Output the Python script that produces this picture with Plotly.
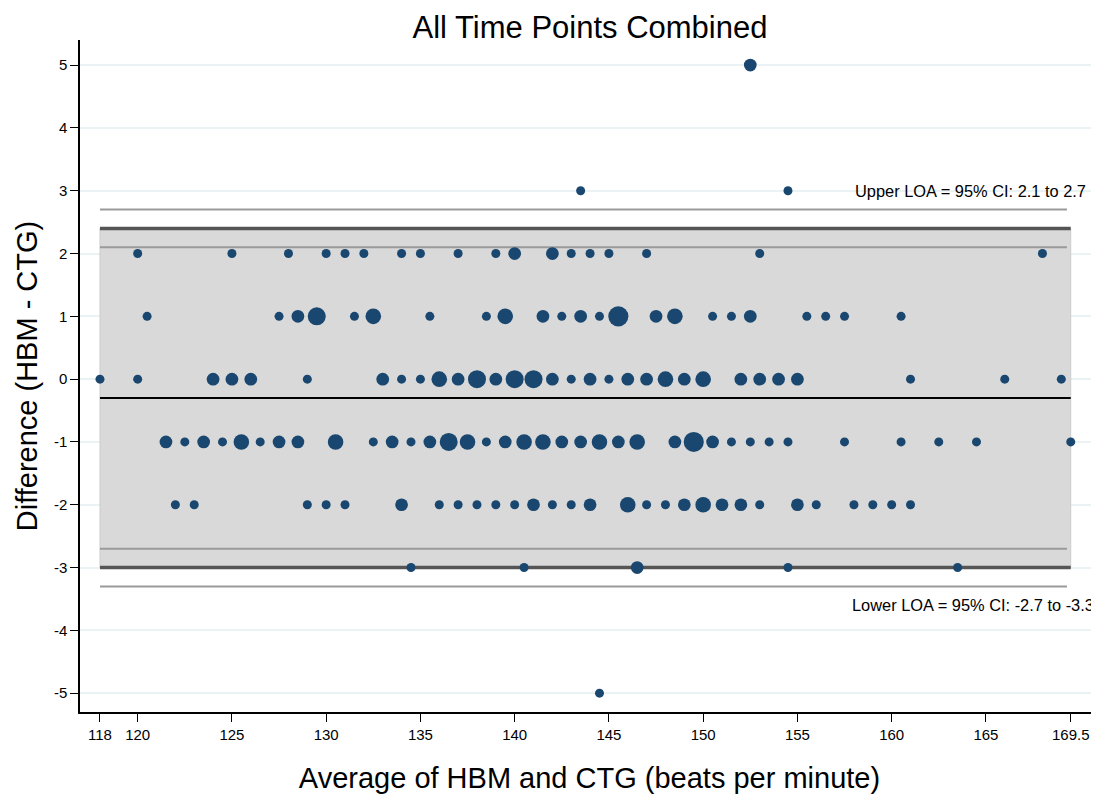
import numpy as np
import plotly.graph_objects as go

# ---- data: (average, count) per difference row ----
row_p5_avg = [152.5]
row_p5_n = [2]
row_p3_avg = [143.5, 154.5]
row_p3_n = [1, 1]
row_p2_avg = [120, 125, 128, 130, 131, 132, 134, 135, 137, 139, 140, 142, 143, 144, 145, 147, 153, 168]
row_p2_n = [1, 1, 1, 1, 1, 1, 1, 1, 1, 1, 2, 2, 1, 1, 1, 1, 1, 1]
row_p1_avg = [120.5, 127.5, 128.5, 129.5, 131.5, 132.5, 135.5, 138.5, 139.5, 141.5, 142.5, 143.5,
              144.5, 145.5, 147.5, 148.5, 150.5, 151.5, 152.5, 155.5, 156.5, 157.5, 160.5]
row_p1_n = [1, 1, 2, 4, 1, 3, 1, 1, 3, 2, 1, 2, 1, 5, 2, 3, 1, 1, 2, 1, 1, 1, 1]
row_0_avg = [118, 120, 124, 125, 126, 129, 133, 134, 135, 136, 137, 138, 139, 140, 141, 142, 143, 144,
             145, 146, 147, 148, 149, 150, 152, 153, 154, 155, 161, 166, 169]
row_0_n = [1, 1, 2, 2, 2, 1, 2, 1, 1, 3, 2, 4, 2, 4, 4, 2, 1, 2,
           1, 2, 2, 3, 2, 3, 2, 2, 2, 2, 1, 1, 1]
row_m1_avg = [121.5, 122.5, 123.5, 124.5, 125.5, 126.5, 127.5, 128.5, 130.5, 132.5, 133.5, 134.5, 135.5,
              136.5, 137.5, 138.5, 139.5, 140.5, 141.5, 142.5, 143.5, 144.5, 145.5, 146.5, 148.5, 149.5,
              150.5, 151.5, 152.5, 153.5, 154.5, 157.5, 160.5, 162.5, 164.5, 169.5]
row_m1_n = [2, 1, 2, 1, 3, 1, 2, 2, 3, 1, 2, 1, 2,
            4, 3, 1, 2, 3, 3, 2, 2, 3, 2, 3, 2, 5,
            2, 1, 1, 1, 1, 1, 1, 1, 1, 1]
row_m2_avg = [122, 123, 129, 130, 131, 134, 136, 137, 138, 139, 140, 141, 142, 143, 144, 146, 147, 148,
              149, 150, 151, 152, 153, 155, 156, 158, 159, 160, 161]
row_m2_n = [1, 1, 1, 1, 1, 2, 1, 1, 1, 1, 1, 2, 1, 1, 2, 3, 1, 1,
            2, 3, 2, 2, 1, 2, 1, 1, 1, 1, 1]
row_m3_avg = [134.5, 140.5, 146.5, 154.5, 163.5]
row_m3_n = [1, 1, 2, 1, 1]
row_m5_avg = [144.5]
row_m5_n = [1]

rows = [(5, row_p5_avg, row_p5_n), (3, row_p3_avg, row_p3_n), (2, row_p2_avg, row_p2_n),
        (1, row_p1_avg, row_p1_n), (0, row_0_avg, row_0_n), (-1, row_m1_avg, row_m1_n),
        (-2, row_m2_avg, row_m2_n), (-3, row_m3_avg, row_m3_n), (-5, row_m5_avg, row_m5_n)]

mean_diff = -0.3
loa_upper = 2.4
loa_lower = -3.0
ci_upper = [2.1, 2.7]
ci_lower = [-2.7, -3.3]
x_min, x_max = 118, 169.5

x_ticks = [118, 120, 125, 130, 135, 140, 145, 150, 155, 160, 165, 169.5]
y_ticks = [-5, -4, -3, -2, -1, 0, 1, 2, 3, 4, 5]

avg, diff, cnt = [], [], []
for d, xs, ns in rows:
    avg += xs
    diff += [d] * len(xs)
    cnt += ns
cnt = np.array(cnt)

NAVY = "#1a476f"
fig = go.Figure()
fig.add_trace(go.Scatter(
    x=avg, y=diff, mode="markers",
    marker=dict(color=NAVY, size=9.0 * np.sqrt(cnt), opacity=1, line=dict(width=0)),
    opacity=1, showlegend=False, hoverinfo="x+y"))

shapes = []
# grey band between limits of agreement
shapes.append(dict(type="rect", xref="x", yref="y", x0=x_min, x1=x_max, y0=loa_lower, y1=loa_upper,
                   fillcolor="#d9d9d9", line=dict(color="#cccccc", width=1), layer="between"))
for yv in ci_upper + ci_lower:
    shapes.append(dict(type="line", xref="x", yref="y", x0=x_min, x1=x_max - 0.2, y0=yv, y1=yv,
                       line=dict(color="#9a9a9a", width=2), layer="between"))
for yv in [loa_upper, loa_lower]:
    shapes.append(dict(type="line", xref="x", yref="y", x0=x_min, x1=x_max, y0=yv, y1=yv,
                       line=dict(color="#555555", width=3.5), layer="between"))
shapes.append(dict(type="line", xref="x", yref="y", x0=x_min, x1=x_max, y0=mean_diff, y1=mean_diff,
                   line=dict(color="black", width=2), layer="between"))

FONT = "Liberation Sans, Arial, sans-serif"
fig.update_layout(
    width=1099, height=794,
    margin=dict(l=72, r=8, t=32, b=90, autoexpand=False),
    paper_bgcolor="white", plot_bgcolor="white",
    shapes=shapes,
    font=dict(family=FONT, color="black"),
    title=dict(text="All Time Points Combined", x=0.5296, xanchor="center", y=0.976, yanchor="middle",
               font=dict(size=31, family=FONT, color="black")),
    xaxis=dict(range=[116.94, 171.0], tickvals=x_ticks, ticktext=[str(v) for v in x_ticks],
               automargin=False,
               showgrid=False, zeroline=False, showline=True, linecolor="black", linewidth=1.5,
               ticks="outside", ticklen=8, tickcolor="black", tickwidth=1,
               tickfont=dict(size=15, family=FONT, color="black"),
               title=dict(text="Average of HBM and CTG (beats per minute)",
                          font=dict(size=29, family=FONT, color="black"), standoff=26)),
    yaxis=dict(range=[-5.3, 5.4], tickvals=y_ticks, ticktext=[str(v) for v in y_ticks],
               automargin=False,
               showgrid=True, gridcolor="#eaf2f3", gridwidth=2,
               zeroline=False, showline=True, linecolor="black", linewidth=1.5,
               ticks="outside", ticklen=8, tickcolor="black", tickwidth=1,
               tickfont=dict(size=15, family=FONT, color="black"),
               title=dict(text="Difference (HBM - CTG)",
                          font=dict(size=29, family=FONT, color="black"), standoff=8)),
    annotations=[
        dict(text="Upper LOA = 95% CI: 2.1 to 2.7", xref="x", yref="y", x=170.42, y=3,
             xanchor="right", yanchor="middle", showarrow=False,
             font=dict(size=16.4, family=FONT, color="black")),
        dict(text="Lower LOA = 95% CI: -2.7 to -3.3", xref="x", yref="y", x=170.85, y=-3.6,
             xanchor="right", yanchor="middle", showarrow=False,
             font=dict(size=16.4, family=FONT, color="black")),
    ],
)

fig.write_html("out.html")
